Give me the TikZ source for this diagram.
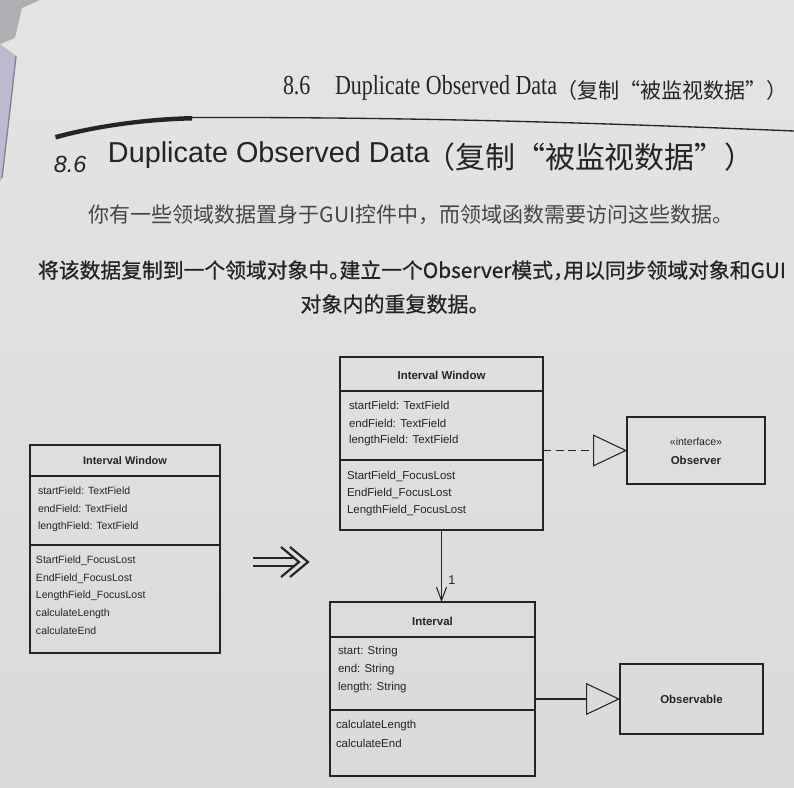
\documentclass[tikz,border=0pt]{standalone}
\usepackage{fontspec}
\usepackage{graphicx}
\setmainfont{Liberation Serif}
\setsansfont{Liberation Sans}
\newfontfamily\cjk{Noto Sans CJK SC}
\newfontfamily\cjkheavy[FakeBold=0.7]{Noto Sans CJK SC}
\usetikzlibrary{arrows.meta,fit}
\definecolor{pagebg}{RGB}{219,218,216}
\definecolor{pagetop}{RGB}{229,228,226}
\definecolor{ink}{RGB}{36,36,38}
\definecolor{edgelav}{RGB}{188,186,207}
\definecolor{edgeshade}{RGB}{176,174,178}
\newcommand{\fs}[1]{\fontsize{#1}{#1}\selectfont}
\tikzset{
  every node/.style={inner sep=0pt, outer sep=0pt, text=ink},
  umlbox/.style={draw=ink, line width=0.8pt, inner sep=0pt},
  divider/.style={draw=ink, line width=0.8pt},
  umltxt/.style={font=\sffamily\fs{8.6pt}, anchor=west},
  umlsmall/.style={font=\sffamily\fs{7.9pt}, anchor=west},
  umltitle/.style={font=\sffamily\bfseries\fs{8.6pt}},
  umltitlesmall/.style={font=\sffamily\bfseries\fs{8.2pt}},
  realize/.style={draw=ink, line width=0.8pt, -{Triangle[open,length=25.5pt,width=24pt]}},
  assoc/.style={draw=ink, line width=0.8pt, -{Straight Barb[length=10pt,width=7.5pt]}},
}
\begin{document}
\begin{tikzpicture}[x=0.75pt,y=-0.75pt]
\clip (0,0) rectangle (794,788);
\shade[top color=pagetop, bottom color=pagebg] (0,0) rectangle (794,788);
% page edge at the left
\fill[edgeshade] (0,0) -- (40,0) -- (22,8) -- (15,38) -- (0,44) -- cycle;
\fill[edgelav] (0,44) -- (16,56) -- (10,110) -- (2,178) -- (0,182) -- cycle;
\draw[edgelav!70!black, line width=1pt] (16,56) -- (10,110) -- (2,178);

% running header
\node[anchor=base west, font=\rmfamily\fs{20.6pt}] (hnum) at (283,95) {\scalebox{0.8}[1]{8.6}};
\node[anchor=base west, font=\rmfamily\fs{20.6pt}] (htxt) at (335,95) {\scalebox{0.8}[1]{Duplicate Observed Data}};
\node[anchor=base west, font=\cjk\fs{15.8pt}] (hcjk) at (556,99) {（复制\makebox[1em][r]{“}被监视数据\makebox[1em][l]{”}\makebox[0.5em][l]{）}};

% swoosh rule
\fill[ink] (55,135) .. controls (100,123) and (150,117) .. (192,116)
  -- (192,120.5) .. controls (150,121.5) and (100,127) .. (56,139.5) -- cycle;
\draw[ink, line width=1pt] (192,117.5) .. controls (420,117) and (600,123) .. (794,131);

% section title
\node[anchor=base west, font=\sffamily\itshape\fs{17.5pt}] (tnum) at (54,173) {8.6};
\node[anchor=base west, font=\sffamily\fs{21.6pt}] (ttxt) at (108,163) {Duplicate Observed Data};
\node[anchor=base west, font=\cjk\fs{22.5pt}] (tcjk) at (425,169) {（复制\makebox[1em][r]{“}被监视数据\makebox[1em][l]{”}）};

% body text
\node[anchor=base west, font=\cjk\fs{15.75pt}, text=ink!85] (line1) at (89,223)
  {你有一些领域数据置身于GUI控件中，而领域函数需要访问这些数据。};
\node[anchor=base west, font=\cjkheavy\fs{15.6pt}] (line2) at (38,278)
  {将该数据复制到一个领域对象中\makebox[0.5em][l]{。}建立一个Observer模式\makebox[0.5em][l]{，}用以同步领域对象和GUI};
\node[anchor=base, font=\cjkheavy\fs{15.75pt}] (line3) at (395,312) {对象内的重复数据。};

% ---------- left class: Interval Window ----------
\node[umlbox, fit={(30,445) (220,653)}] (lw) {};
\draw[divider] (30,476) -- (220,476);
\draw[divider] (30,545) -- (220,545);
\node[umltitlesmall] (lwt) at (125,460.5) {Interval Window};
\node[umlsmall] (lwa1) at (38,491) {startField: TextField};
\node[umlsmall] (lwa2) at (38,509) {endField: TextField};
\node[umlsmall] (lwa3) at (38,527) {lengthField: TextField};
\node[umlsmall] (lwm1) at (36,561) {StartField\_FocusLost};
\node[umlsmall] (lwm2) at (36,578.5) {EndField\_FocusLost};
\node[umlsmall] (lwm3) at (36,596) {LengthField\_FocusLost};
\node[umlsmall] (lwm4) at (36,613.5) {calculateLength};
\node[umlsmall] (lwm5) at (36,631) {calculateEnd};

% refactoring arrow
\draw[ink, line width=1.6pt] (253,558) -- (294,558);
\draw[ink, line width=1.6pt] (253,566) -- (294,566);
\draw[ink, line width=1.6pt, line join=miter] (281,547) -- (299,562) -- (281,577);
\draw[ink, line width=1.6pt, line join=miter] (290,547) -- (308,562) -- (290,577);

% ---------- right class: Interval Window ----------
\node[umlbox, fit={(340,357) (543,530)}] (rw) {};
\draw[divider] (340,391) -- (543,391);
\draw[divider] (340,460) -- (543,460);
\node[umltitle] (rwt) at (441.5,375) {Interval Window};
\node[umltxt] (rwa1) at (349,405) {startField: TextField};
\node[umltxt] (rwa2) at (349,423) {endField: TextField};
\node[umltxt] (rwa3) at (349,440.5) {lengthField: TextField};
\node[umltxt] (rwm1) at (347,476) {StartField\_FocusLost};
\node[umltxt] (rwm2) at (347,493.5) {EndField\_FocusLost};
\node[umltxt] (rwm3) at (347,511) {LengthField\_FocusLost};

% ---------- Observer interface ----------
\node[umlbox, fit={(627,417) (765,484)}] (obs) {};
\node[font=\sffamily\fs{7.9pt}] (obsst) at (696,442) {«interface»};
\node[umltitle] (obsn) at (696,460) {Observer};

% ---------- Interval ----------
\node[umlbox, fit={(330,602) (535,776)}] (iv) {};
\draw[divider] (330,637) -- (535,637);
\draw[divider] (330,710) -- (535,710);
\node[umltitle] (ivt) at (432.5,621.5) {Interval};
\node[umltxt] (iva1) at (338,652) {start: String};
\node[umltxt] (iva2) at (338,670) {end: String};
\node[umltxt] (iva3) at (338,688) {length: String};
\node[umltxt] (ivm1) at (336,726) {calculateLength};
\node[umltxt] (ivm2) at (336,743.5) {calculateEnd};

% ---------- Observable ----------
\node[umlbox, fit={(620,664) (763,734)}] (obl) {};
\node[umltitle] (obln) at (691.5,699) {Observable};

% ---------- connectors ----------
\draw[realize, dashed, dash pattern=on 6pt off 3.5pt] (rw.east |- obs.west) -- (obs.west);
\draw[realize] (iv.east |- obl.west) -- (obl.west);
\draw[assoc] (rw.south) -- (rw.south |- iv.north);
\node[font=\sffamily\fs{9.5pt}] (mult) at (452,580) {1};
\end{tikzpicture}
\end{document}
